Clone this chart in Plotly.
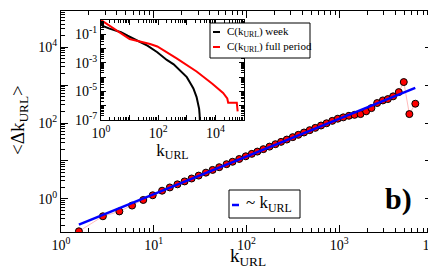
import plotly.graph_objects as go

# ---------------- data ----------------
k_url = [1.56, 2.83, 4.26, 5.84, 7.71, 9.75, 12.3, 14.9, 18.0, 21.5, 25.6, 30.5, 36.5,
         43.1, 50.8, 61.0, 70.7, 83.5, 98.2, 114, 131, 152, 177, 205, 236, 272, 315,
         362, 417, 480, 552, 636, 730, 841, 964, 1105, 1271, 1461, 1695, 1951, 2224,
         2563, 2951, 3341, 3811, 4385, 4963, 5701, 6610]
delta_k = [0.141, 0.35, 0.47, 0.67, 0.94, 1.25, 1.65, 2.01, 2.43, 2.90, 3.46, 4.12, 4.93,
           5.82, 6.86, 8.24, 9.54, 11.3, 13.3, 15.4, 17.7, 20.5, 23.9, 27.7, 31.9, 36.7,
           42.5, 48.9, 56.3, 64.8, 74.5, 85.9, 98.6, 114, 130, 141, 155, 164, 172, 203,
           247, 336, 394, 427, 504, 652, 1199, 172, 322]

fit_k = [1.56, 6600]
fit_y = [0.21, 840]

week_k = [1, 1.15, 2, 5, 8.5, 20, 42, 93, 200, 347, 600, 1000, 1400, 1700, 2200, 2500,
          2700, 2800, 2850]
week_c = [1, 0.38, 0.25, 0.14, 0.079, 0.035, 0.016, 0.0055, 0.0016, 7.9e-4, 2.5e-4,
          1.0e-4, 3.2e-5, 1.6e-5, 4.0e-6, 1.6e-6, 6.0e-7, 2.5e-7, 1e-7]

full_k = [1, 10, 52, 93, 455, 2200, 7800, 18600, 26000, 28000, 56000, 60000]
full_c = [1, 0.047, 0.021, 0.014, 0.002, 2.5e-4, 3.5e-5, 7.9e-6, 3.2e-6, 1.6e-6,
          1.6e-6, 4.0e-7]

main_xticks = [1, 10, 100, 1000, 10000]
main_xtext = ["10<sup>0</sup>", "10<sup>1</sup>", "10<sup>2</sup>", "10<sup>3</sup>", "10<sup>4</sup>"]
main_yticks = [1, 10, 100, 1000, 10000]
main_ytext = ["10<sup>0</sup>", "", "10<sup>2</sup>", "", "10<sup>4</sup>"]
inset_xticks = [1, 10, 100, 1000, 10000, 100000]
inset_xtext = ["10<sup>0</sup>", "", "10<sup>2</sup>", "", "10<sup>4</sup>", ""]
inset_yticks = [1e-7, 1e-6, 1e-5, 1e-4, 1e-3, 1e-2, 1e-1, 1]
inset_ytext = ["10<sup>-7</sup>", "", "10<sup>-5</sup>", "", "10<sup>-3</sup>", "",
               "10<sup>-1</sup>", ""]

# ---------------- figure ----------------
W, H = 436, 272
L, R, T, B = 53, 12, 3, 48
PW, PH = W - L - R, H - T - B
SERIF = "Liberation Serif"


def px(x):
    return (x - L) / PW


def py(y):
    return (H - B - y) / PH


def minor_vals(lo, hi):
    out = []
    for e in range(lo, hi):
        for m in range(2, 10):
            out.append(m * 10.0 ** e)
    return out


fig = go.Figure()

fig.add_trace(go.Scatter(x=k_url, y=delta_k, mode="lines+markers",
                         line=dict(color="#ffbcbc", width=1),
                         marker=dict(size=7, color="red", line=dict(color="black", width=1)),
                         xaxis="x", yaxis="y", showlegend=False))
fig.add_trace(go.Scatter(x=fit_k, y=fit_y, mode="lines",
                         line=dict(color="blue", width=2.5),
                         xaxis="x", yaxis="y", showlegend=False))
fig.add_trace(go.Scatter(x=week_k, y=week_c, mode="lines",
                         line=dict(color="black", width=2),
                         xaxis="x2", yaxis="y2", showlegend=False))
fig.add_trace(go.Scatter(x=full_k, y=full_c, mode="lines",
                         line=dict(color="red", width=2),
                         xaxis="x2", yaxis="y2", showlegend=False))

axis_common = dict(type="log", showline=True, linecolor="black", linewidth=1,
                   mirror="allticks", ticks="inside", tickcolor="black",
                   showgrid=False, zeroline=False, tickmode="array", automargin=False)

fig.update_layout(
    width=W, height=H,
    margin=dict(l=L, r=R, t=T, b=B, autoexpand=False),
    plot_bgcolor="white", paper_bgcolor="white",
    font=dict(family=SERIF, color="black"),
    xaxis=dict(axis_common, range=[0, 4], tickvals=main_xticks, ticktext=main_xtext,
               ticklen=7, tickfont=dict(size=14, family=SERIF),
               minor=dict(tickmode="array", tickvals=minor_vals(0, 4), ticks="inside",
                          ticklen=4, tickcolor="black", showgrid=False)),
    yaxis=dict(axis_common, range=[-0.87, 4.95], tickvals=main_yticks, ticktext=main_ytext,
               ticklen=7, tickfont=dict(size=14, family=SERIF),
               minor=dict(tickmode="array", tickvals=minor_vals(-1, 5), ticks="inside",
                          ticklen=4, tickcolor="black", showgrid=False)),
    xaxis2=dict(axis_common, range=[0, 5], tickvals=inset_xticks, ticktext=inset_xtext,
                domain=[px(93), px(236)], anchor="y2", ticklen=5,
                tickfont=dict(size=14, family=SERIF),
                minor=dict(tickmode="array", tickvals=minor_vals(0, 5), ticks="inside",
                           ticklen=3, tickcolor="black", showgrid=False),
                title=dict(text="k<sub>URL</sub>", font=dict(size=17, family=SERIF), standoff=0)),
    yaxis2=dict(axis_common, range=[-7, 0], tickvals=inset_yticks, ticktext=inset_ytext,
                domain=[py(112), py(12)], anchor="x2", ticklen=5,
                tickfont=dict(size=14, family=SERIF),
                minor=dict(tickmode="array", tickvals=minor_vals(-7, 0), ticks="inside",
                           ticklen=3, tickcolor="black", showgrid=False)),
)

shapes = [
    dict(type="rect", xref="x2 domain", yref="y2 domain", x0=0, x1=1, y0=0, y1=1,
         fillcolor="white", line=dict(width=0), layer="below"),
    # legend 1 box
    dict(type="rect", xref="paper", yref="paper", x0=px(202), x1=px(302), y0=py(50), y1=py(15),
         fillcolor="white", line=dict(color="black", width=1)),
    dict(type="line", xref="paper", yref="paper", x0=px(205), x1=px(212), y0=py(24), y1=py(24),
         line=dict(color="black", width=2)),
    dict(type="line", xref="paper", yref="paper", x0=px(205), x1=px(212), y0=py(39), y1=py(39),
         line=dict(color="red", width=2)),
    # legend 2 box
    dict(type="rect", xref="paper", yref="paper", x0=px(221), x1=px(292), y0=py(210), y1=py(182),
         fillcolor="white", line=dict(color="black", width=1)),
    dict(type="line", xref="paper", yref="paper", x0=px(224), x1=px(231), y0=py(197), y1=py(197),
         line=dict(color="blue", width=2.5)),
]
fig.update_layout(shapes=shapes)

annotations = [
    dict(text="k<sub>URL</sub>", x=px(240), y=py(249), xref="paper", yref="paper",
         xanchor="center", yanchor="middle", showarrow=False, font=dict(size=19, family=SERIF)),
    dict(text="&lt;Δk<sub>URL</sub>&gt;", x=px(11), y=py(112), xref="paper", yref="paper",
         xanchor="center", yanchor="middle", textangle=-90, showarrow=False,
         font=dict(size=19, family=SERIF)),
    dict(text="C(k<sub>URL</sub>) week", x=px(217), y=py(24), xref="paper", yref="paper",
         xanchor="left", yanchor="middle", showarrow=False, font=dict(size=11, family=SERIF)),
    dict(text="C(k<sub>URL</sub>) full period", x=px(217), y=py(39), xref="paper", yref="paper",
         xanchor="left", yanchor="middle", showarrow=False, font=dict(size=11, family=SERIF)),
    dict(text="~ k<sub>URL</sub>", x=px(236), y=py(196), xref="paper", yref="paper",
         xanchor="left", yanchor="middle", showarrow=False, font=dict(size=17, family=SERIF)),
    dict(text="<b>b)</b>", x=px(390), y=py(191), xref="paper", yref="paper",
         xanchor="center", yanchor="middle", showarrow=False, font=dict(size=30, family=SERIF)),
]
fig.update_layout(annotations=annotations)

fig.write_html("out.html")
